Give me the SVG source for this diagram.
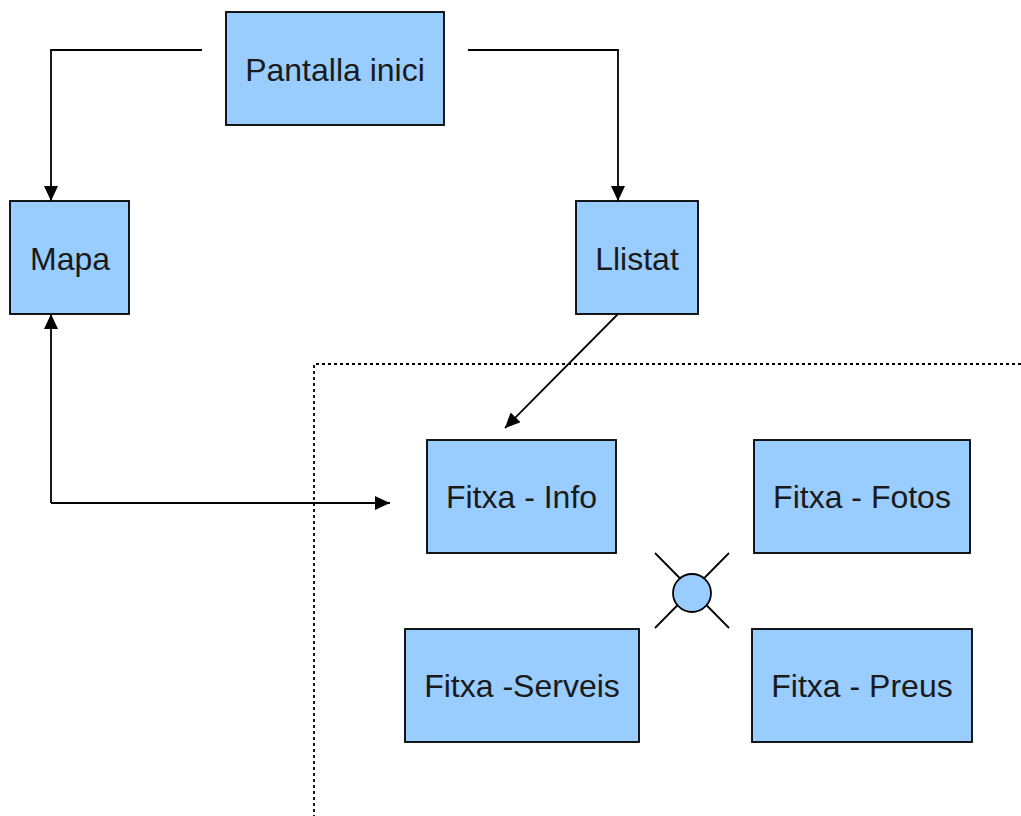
<svg xmlns="http://www.w3.org/2000/svg" width="1021" height="816" viewBox="0 0 1021 816">
<style>
.box{fill:#99ccff;stroke:#000;stroke-width:1.8}
.lbl{font-family:"Liberation Sans",Arial,sans-serif;font-size:32px;fill:#1a1a1a;text-anchor:middle}
.con{fill:none;stroke:#000;stroke-width:1.8}
.dot{fill:none;stroke:#000;stroke-width:1.8;stroke-dasharray:3 3}
</style>
<defs>
<marker id="ah" viewBox="0 0 15 14" refX="15" refY="7" markerWidth="15" markerHeight="14" markerUnits="userSpaceOnUse" orient="auto">
<path d="M0,0 L15,7 L0,14 Z" fill="#000"/>
</marker>
</defs>
<rect width="1021" height="816" fill="#fff"/>
<g id="connectors">
<polyline class="con" points="202,50 51,50 51,201" marker-end="url(#ah)"/>
<polyline class="con" points="468,50 618,50 618,201" marker-end="url(#ah)"/>
<line class="con" x1="618" y1="314" x2="505" y2="428" marker-end="url(#ah)"/>
<polyline class="con" points="51,503 51,314" marker-end="url(#ah)"/>
<polyline class="con" points="51,503 390,503" marker-end="url(#ah)"/>
<polyline class="dot" points="1021,364 314,364 314,816"/>
<line class="con" x1="655" y1="553" x2="729" y2="628"/>
<line class="con" x1="729" y1="553" x2="655" y2="628"/>
</g>
<g id="pantalla">
<rect class="box" x="226" y="12" width="218" height="113"/>
<text class="lbl" x="335" y="81">Pantalla inici</text>
</g>
<g id="mapa">
<rect class="box" x="10" y="201" width="119" height="113"/>
<text class="lbl" x="70" y="270">Mapa</text>
</g>
<g id="llistat">
<rect class="box" x="576" y="201" width="122" height="113"/>
<text class="lbl" x="637" y="270">Llistat</text>
</g>
<g id="info">
<rect class="box" x="427" y="440" width="189" height="113"/>
<text class="lbl" x="521.5" y="508">Fitxa - Info</text>
</g>
<g id="fotos">
<rect class="box" x="754" y="440" width="216" height="113"/>
<text class="lbl" x="862" y="508">Fitxa - Fotos</text>
</g>
<g id="serveis">
<rect class="box" x="405" y="629" width="234" height="113"/>
<text class="lbl" x="522" y="697">Fitxa -Serveis</text>
</g>
<g id="preus">
<rect class="box" x="752" y="629" width="220" height="113"/>
<text class="lbl" x="862" y="697">Fitxa - Preus</text>
</g>
<g id="hub">
<circle class="box" cx="692" cy="593" r="19"/>
</g>
</svg>
